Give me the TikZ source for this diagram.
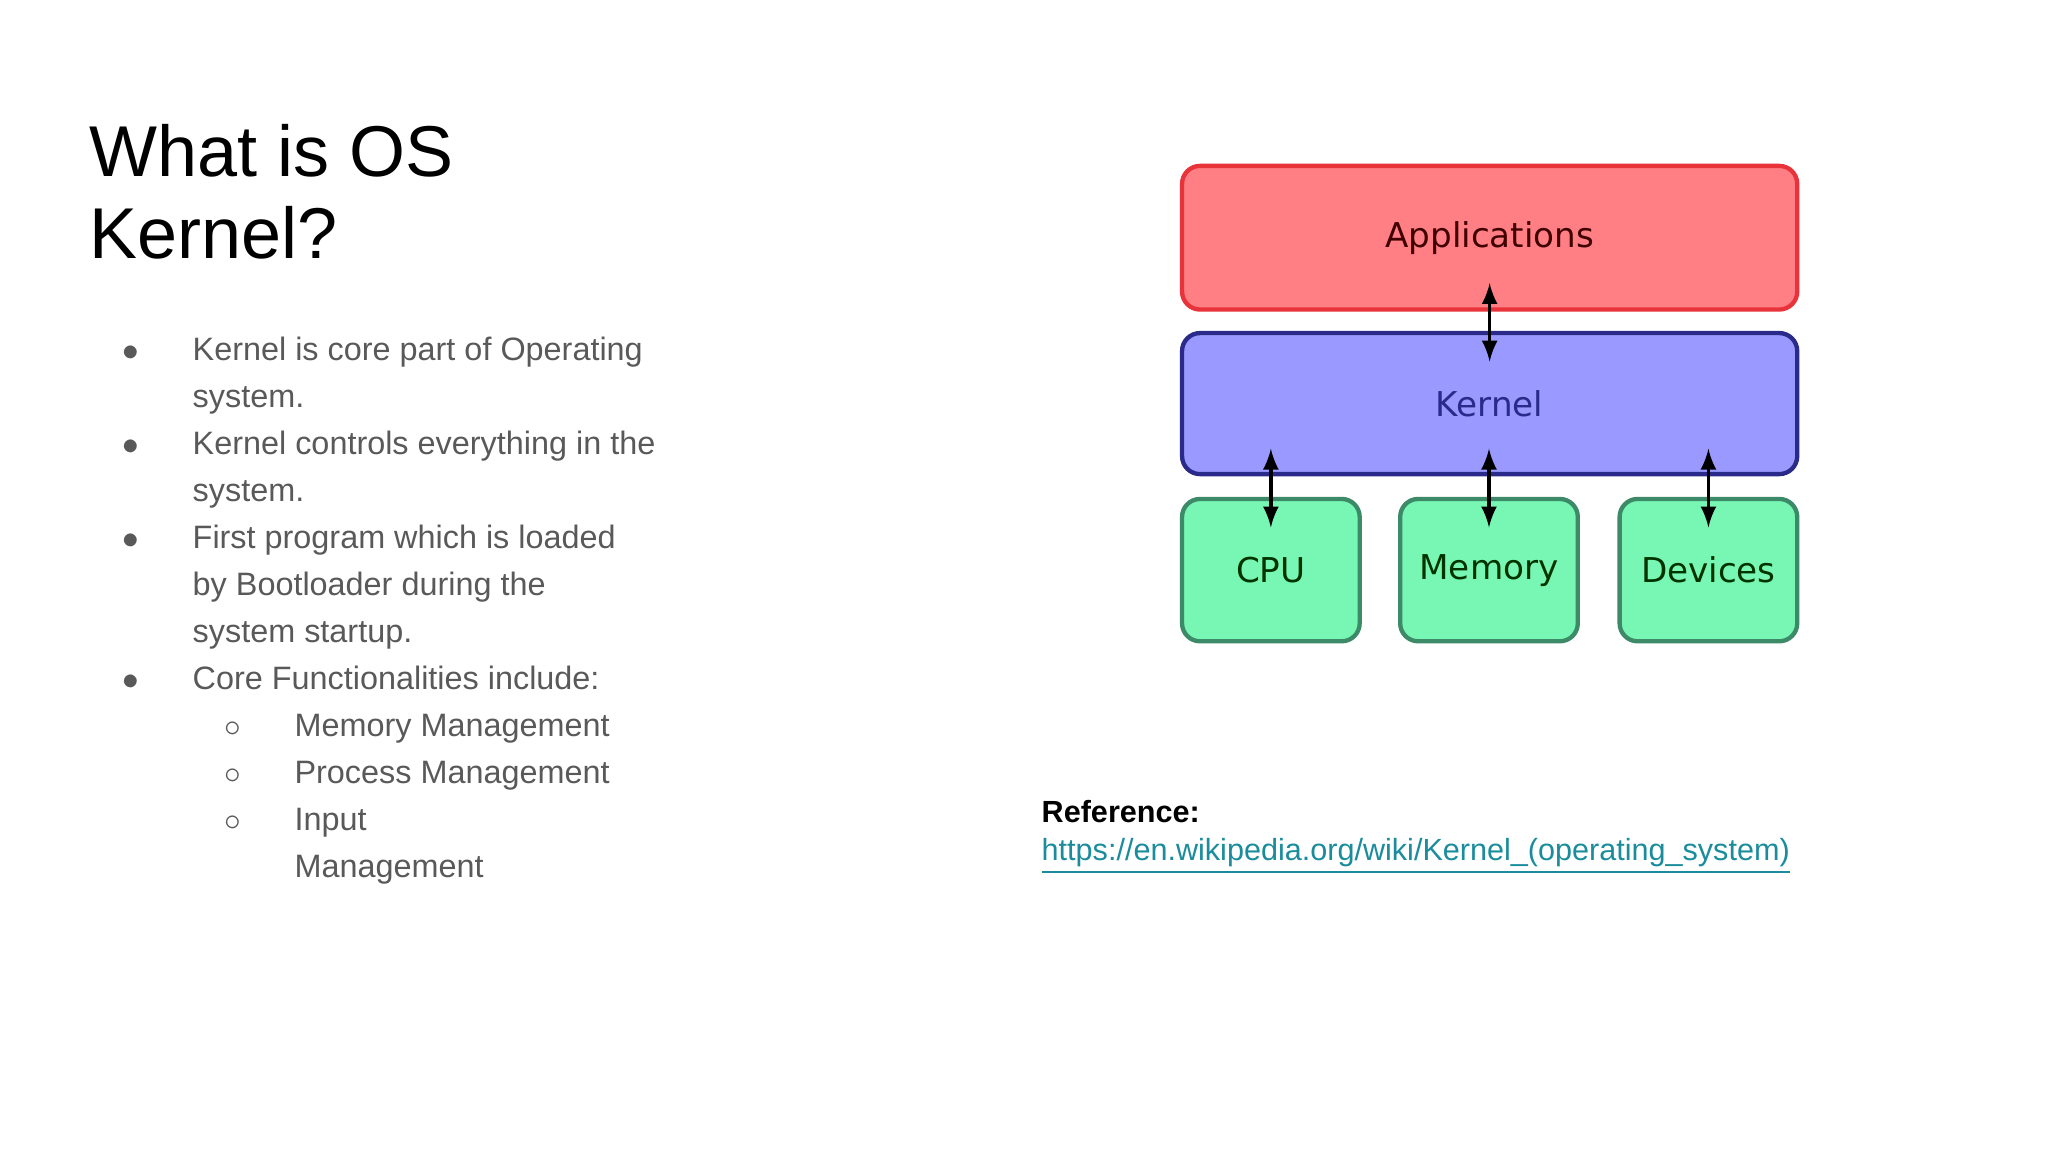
\documentclass[tikz,border=0pt]{standalone}
\usepackage{fontspec}
\setmainfont{Liberation Sans}
\newfontfamily\dejavu{DejaVu Sans}
\usepackage{xcolor}
\usetikzlibrary{positioning,calc}
\definecolor{appred}{HTML}{FF7F84}
\definecolor{appline}{HTML}{E8333B}
\definecolor{kerblue}{HTML}{9999FF}
\definecolor{kerline}{HTML}{2A2A8A}
\definecolor{hwgreen}{HTML}{77F7B3}
\definecolor{hwline}{HTML}{3C8A68}
\definecolor{bodygray}{HTML}{595959}
\definecolor{linkteal}{HTML}{1A8C9C}
\tikzset{
  layer/.style={rounded corners=5pt, line width=1.2pt, inner sep=0pt,
    font=\dejavu\fontsize{9.5}{11}\selectfont},
  link/.style={<->, >=latex, line width=1pt, black},
  bul/.style={anchor=base west, text=bodygray, font=\fontsize{9}{11}\selectfont, inner sep=0pt},
}
\begin{document}
\begin{tikzpicture}[x=0.01276cm, y=-0.01276cm]
\useasboundingbox (0,0) rectangle (1568,882);
% title
\node[anchor=base west, inner sep=0pt, font=\fontsize{20}{23}\selectfont] (t1) at (68,135) {What is OS};
\node[anchor=base west, inner sep=0pt, font=\fontsize{20}{23}\selectfont] (t2) at (68,198) {Kernel?};
% bullets
\foreach \y/\txt in {276/Kernel is core part of Operating, 312/system., 348/Kernel controls everything in the, 384/system., 420/First program which is loaded, 456/by Bootloader during the, 492/system startup., 528/Core Functionalities include:}
  \node[bul] at (147,\y) {\txt};
\foreach \y in {276,348,420,528}
  \node[bul] at (93,\y) {$\bullet$};
\foreach \y/\txt in {564/Memory Management, 600/Process Management, 636/Input/Output, 672/Management}
  \node[bul] at (225,\y) {\txt};
\foreach \y in {564,600,636}
  \node[bul] at (171,\y) {$\circ$};
% diagram
\node[layer, fill=appred, draw=appline, minimum width=471*0.01276cm, minimum height=110*0.01276cm,
  text=black!75!red] (app) at (1140.5,182) {Applications};
\node[layer, fill=kerblue, draw=kerline, minimum width=471*0.01276cm, minimum height=108*0.01276cm,
  text=kerline] (ker) at (1140.5,309) {Kernel};
\node[layer, fill=hwgreen, draw=hwline, minimum width=136*0.01276cm, minimum height=109*0.01276cm,
  text=black!80!green] (cpu) at (973,436.5) {CPU};
\node[layer, fill=hwgreen, draw=hwline, minimum width=136*0.01276cm, minimum height=109*0.01276cm,
  text=black!80!green] (mem) at (1140,436.5) {Memory};
\node[layer, fill=hwgreen, draw=hwline, minimum width=136*0.01276cm, minimum height=109*0.01276cm,
  text=black!80!green] (dev) at (1308,436.5) {Devices};
\draw[link] ([yshift=0.28cm]app.south) -- ([yshift=-0.3cm]ker.north);
\draw[link] ([yshift=0.27cm]ker.south -| cpu.north) -- ([yshift=-0.3cm]cpu.north);
\draw[link] ([yshift=0.27cm]ker.south -| mem.north) -- ([yshift=-0.3cm]mem.north);
\draw[link] ([yshift=0.27cm]ker.south -| dev.north) -- ([yshift=-0.3cm]dev.north);
% reference
\node[anchor=base west, inner sep=0pt, font=\bfseries\fontsize{8.5}{10}\selectfont] (ref) at (797,630) {Reference:};
\node[anchor=base west, inner sep=0pt, text=linkteal, font=\fontsize{8.5}{10}\selectfont] (url) at (797,659)
  {\underline{https://en.wikipedia.org/wiki/Kernel\_(operating\_system)}};
\end{tikzpicture}
\end{document}
